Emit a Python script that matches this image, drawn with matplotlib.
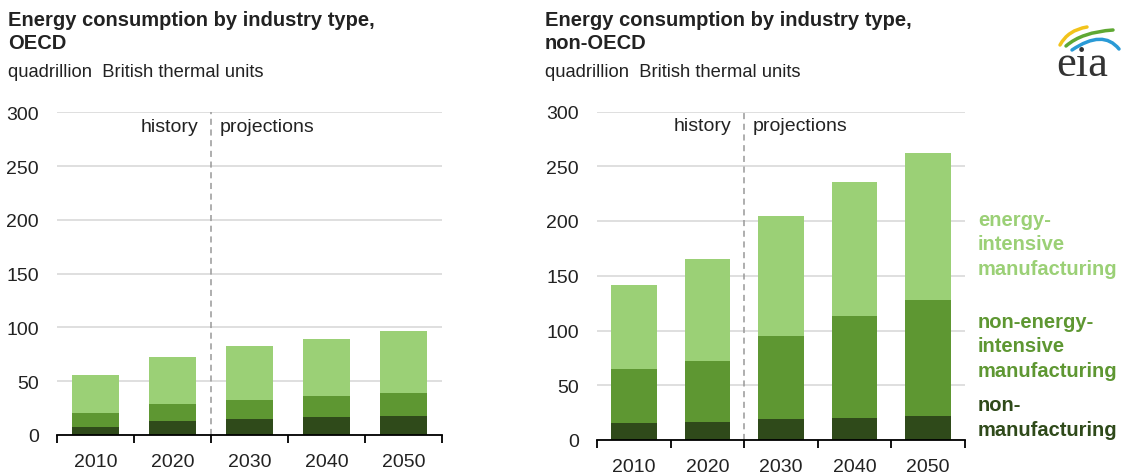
import matplotlib.pyplot as plt
from matplotlib.path import Path
from matplotlib.patches import PathPatch

plt.rcParams['font.family'] = ['Liberation Sans', 'DejaVu Sans']

years = ['2010', '2020', '2030', '2040', '2050']

# OECD, quadrillion Btu
oecd_nonmfg = [7.5, 13.4, 15.0, 16.5, 18.0]
oecd_nonenergy = [13.3, 15.3, 17.7, 19.3, 20.6]
oecd_energy = [35.2, 43.9, 49.8, 53.0, 57.9]

# non-OECD, quadrillion Btu
non_nonmfg = [15.2, 16.7, 18.9, 20.4, 21.9]
non_nonenergy = [49.7, 55.2, 76.1, 92.9, 106.3]
non_energy = [77.0, 93.4, 109.9, 122.7, 134.3]

titles = ['Energy consumption by industry type,\nOECD',
          'Energy consumption by industry type,\nnon-OECD']
subtitle = 'quadrillion  British thermal units'
labels = ['energy-\nintensive\nmanufacturing',
          'non-energy-\nintensive\nmanufacturing',
          'non-\nmanufacturing']

c_light = '#9bd076'
c_mid = '#5e9732'
c_dark = '#2f4a1a'
grid_c = '#d9d9d9'
text_c = '#222222'

W, H = 1121, 477
fig = plt.figure(figsize=(W / 100, H / 100), dpi=100)


def draw_panel(rect, nonmfg, nonenergy, energy, barw):
    ax = fig.add_axes(rect)
    x = list(range(len(years)))
    ax.bar(x, nonmfg, width=barw, color=c_dark, zorder=3)
    ax.bar(x, nonenergy, width=barw, bottom=nonmfg, color=c_mid, zorder=3)
    base = [a + b for a, b in zip(nonmfg, nonenergy)]
    ax.bar(x, energy, width=barw, bottom=base, color=c_light, zorder=3)
    ax.set_xlim(-0.5, len(years) - 0.5)
    ax.set_ylim(0, 300)
    ax.set_yticks(range(0, 301, 50))
    ax.yaxis.grid(True, color=grid_c, linewidth=1.2)
    ax.set_axisbelow(True)
    for s in ['left', 'right', 'top']:
        ax.spines[s].set_visible(False)
    ax.spines['bottom'].set_color('black')
    ax.spines['bottom'].set_linewidth(1.3)
    ax.spines['bottom'].set_zorder(4)
    ax.set_xticks(x)
    ax.set_xticklabels(years)
    ax.set_xticks([i - 0.5 for i in range(len(years) + 1)], minor=True)
    ax.tick_params(axis='x', which='major', length=0, pad=13, labelsize=14,
                   labelcolor=text_c)
    ax.tick_params(axis='x', which='minor', length=6, width=1.3,
                   direction='out', color='black')
    ax.tick_params(axis='y', length=0, pad=13, labelsize=14, labelcolor=text_c)
    # history / projections divider
    ax.axvline(1.5, color='#999999', linestyle=(0, (4, 3)), linewidth=1.1,
               zorder=2)
    ax.annotate('history', (1.5, 287), xytext=(-9, 0),
                textcoords='offset points', ha='right', va='center',
                fontsize=14, color=text_c)
    ax.annotate('projections', (1.5, 287), xytext=(6, 0),
                textcoords='offset points', ha='left', va='center',
                fontsize=14, color=text_c)
    return ax


draw_panel([57 / W, 1 - 436 / H, 385 / W, 322.7 / H],
           oecd_nonmfg, oecd_nonenergy, oecd_energy, 0.61)
draw_panel([597 / W, 1 - 441 / H, 368 / W, 328.5 / H],
           non_nonmfg, non_nonenergy, non_energy, 0.62)

# titles
for xpx, t in zip([8, 545], titles):
    fig.text(xpx / W, 1 - 11 / H, t, ha='left', va='top', fontsize=14.5,
             fontweight='bold', color=text_c, linespacing=1.25)
    fig.text(xpx / W, 1 - 64 / H, subtitle, ha='left', va='top',
             fontsize=13.2, color=text_c)

# series labels on the right
for ypx, lab, col in zip([245, 347, 418], labels, [c_light, c_mid, c_dark]):
    fig.text(978 / W, 1 - ypx / H, lab, ha='left', va='center', fontsize=14.5,
             fontweight='bold', color=col, linespacing=1.38)

# eia logo
lg = fig.add_axes([0, 0, 1, 1], zorder=10)
lg.set_xlim(0, W)
lg.set_ylim(H, 0)
lg.axis('off')
swooshes = [
    ([(1060, 46), (1068, 31), (1087, 28)], '#f2c31b', 2.5),
    ([(1066, 47), (1082, 33), (1113, 31)], '#5fa833', 2.5),
    ([(1072, 51), (1103, 30), (1119, 50)], '#2a9ad6', 2.5),
]
for pts, col, lw in swooshes:
    p = Path(pts, [Path.MOVETO, Path.CURVE3, Path.CURVE3])
    lg.add_patch(PathPatch(p, facecolor='none', edgecolor=col, linewidth=lw,
                           capstyle='round'))
lg.text(1082, 76, 'eia', ha='center', va='baseline', fontsize=32,
        family='Liberation Serif', color='#333333')

fig.savefig('out.png', dpi=100)
